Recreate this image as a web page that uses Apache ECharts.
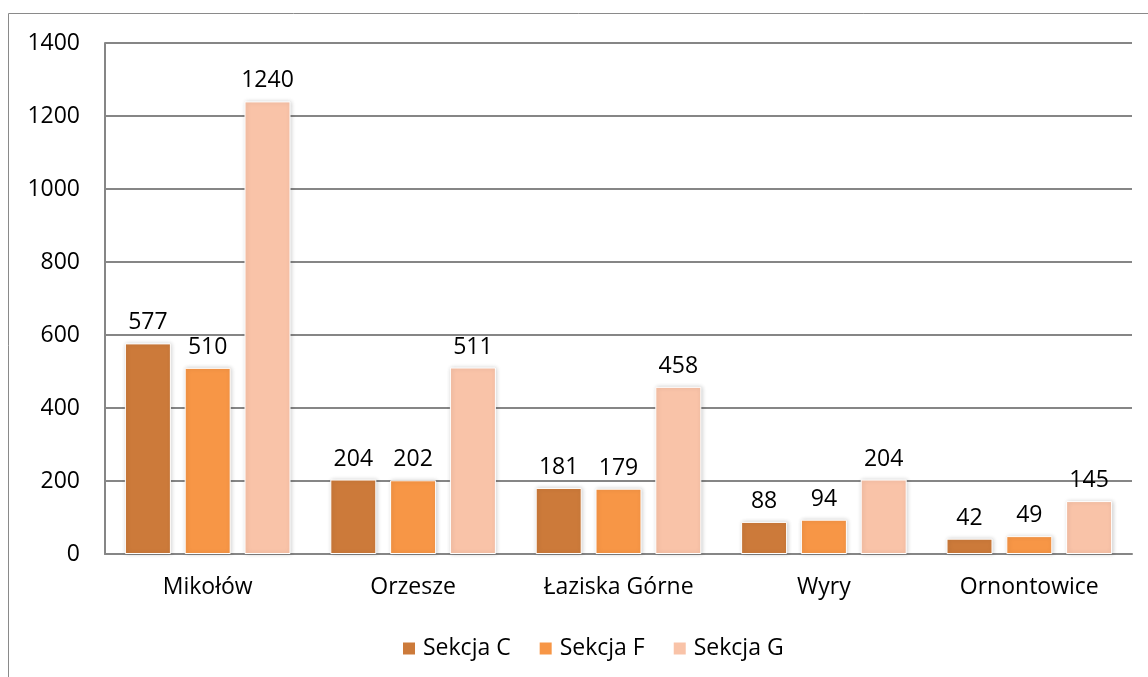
<!DOCTYPE html>
<html>
<head>
<meta charset="utf-8">
<script src="https://cdn.jsdelivr.net/npm/echarts@6/dist/echarts.min.js"></script>
<style>
html,body{margin:0;padding:0;background:#fff;}
#chart{width:1148px;height:677px;}
</style>
</head>
<body>
<div id="chart"></div>
<script>
const categories = ['Mikołów', 'Orzesze', 'Łaziska Górne', 'Wyry', 'Ornontowice'];
const seriesNames = ['Sekcja C', 'Sekcja F', 'Sekcja G'];
const sekcjaC = [577, 204, 181, 88, 42];
const sekcjaF = [510, 202, 179, 94, 49];
const sekcjaG = [1240, 511, 458, 204, 145];
const yTicks = [0, 200, 400, 600, 800, 1000, 1200, 1400];
const colors = ['#CC7A3A', '#F79646', '#F9C3A8'];

const FONT = 'Open Sans';
const FS = 23;
const chart = echarts.init(document.getElementById('chart'), null, {renderer: 'canvas'});

function mkSeries(name, data, color) {
  return {
    name: name,
    type: 'bar',
    data: data,
    barWidth: 46,
    barGap: '30%',
    itemStyle: {
      color: color,
      borderColor: '#ffffff',
      borderWidth: 1,
      shadowColor: 'rgba(0,0,0,0.18)',
      shadowBlur: 4,
      shadowOffsetX: 1,
      shadowOffsetY: 0
    },
    label: {
      show: true,
      position: 'top',
      distance: 9,
      color: '#000',
      fontFamily: FONT,
      fontSize: FS
    }
  };
}

chart.setOption({
  animation: false,
  backgroundColor: '#ffffff',
  textStyle: {fontFamily: FONT},
  graphic: [{
    type: 'rect',
    shape: {x: 8.5, y: 13.5, width: 1160, height: 700},
    style: {fill: 'none', stroke: '#8a8a8a', lineWidth: 1},
    silent: true
  }],
  grid: {left: 105, right: 16, top: 43, bottom: 123, containLabel: false},
  legend: {
    data: seriesNames,
    top: 632,
    left: 396,
    itemWidth: 14,
    itemHeight: 14,
    itemGap: 27,
    icon: 'rect',
    textStyle: {fontFamily: FONT, fontSize: FS, color: '#000', padding: [0, 0, 0, 2]}
  },
  xAxis: {
    type: 'category',
    data: categories,
    axisLine: {show: true, lineStyle: {color: '#868686', width: 2}},
    axisTick: {show: false},
    axisLabel: {fontFamily: FONT, fontSize: FS, color: '#000', margin: 22}
  },
  yAxis: {
    type: 'value',
    min: yTicks[0],
    max: yTicks[yTicks.length - 1],
    interval: 200,
    axisLine: {show: true, lineStyle: {color: '#868686', width: 2}},
    axisTick: {show: false},
    splitLine: {show: true, lineStyle: {color: '#868686', width: 2}},
    axisLabel: {fontFamily: FONT, fontSize: FS, color: '#000', margin: 25,
      formatter: function (v) { return String(v); }}
  },
  series: [
    mkSeries(seriesNames[0], sekcjaC, colors[0]),
    mkSeries(seriesNames[1], sekcjaF, colors[1]),
    mkSeries(seriesNames[2], sekcjaG, colors[2])
  ]
});
</script>
</body>
</html>
